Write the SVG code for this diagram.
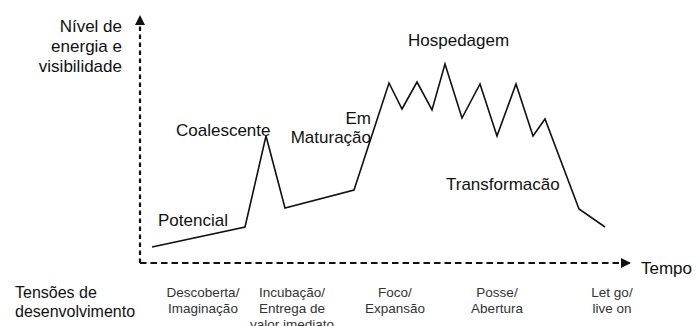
<svg xmlns="http://www.w3.org/2000/svg" width="696" height="326" viewBox="0 0 696 326">
<style>
.t{font-family:"Liberation Sans",Arial,sans-serif;font-size:17px;fill:#111}
.s{font-family:"Liberation Sans",Arial,sans-serif;font-size:13.5px;fill:#333;text-anchor:middle}
.ax{stroke:#111;stroke-width:2.2;fill:none}
.v{stroke-dasharray:4.5 3.5}
.h{stroke-dasharray:6.5 4}
.c{stroke:#111;stroke-width:1.6;fill:none;stroke-linejoin:miter}
</style>
<defs>
<marker id="ah" markerWidth="10" markerHeight="10" refX="9" refY="5" orient="auto" markerUnits="userSpaceOnUse">
<path d="M0,0 L10,5 L0,10 Z" fill="#111"/>
</marker>
</defs>
<rect width="696" height="326" fill="#fff"/>
<g id="axes">
<path class="ax v" d="M140,263 L140,16" marker-end="url(#ah)"/>
<path class="ax h" d="M140,263 L630,263" marker-end="url(#ah)"/>
</g>
<g id="connectors">
<polyline class="c" points="152,247 245,227 266,136 285,208 354,190 389,83 402,109 417,82 432,110 445,64 462,118 480,84 497,136 516,84 533,136 545,119 579,209 605,227"/>
</g>
<g id="axis-labels">
<text class="t" text-anchor="end" x="122" y="32">Nível de</text>
<text class="t" text-anchor="end" x="122" y="52">energia e</text>
<text class="t" text-anchor="end" x="122" y="72">visibilidade</text>
<text class="t" x="641" y="274">Tempo</text>
</g>
<g id="stage-potencial"><text class="t" x="158" y="226">Potencial</text></g>
<g id="stage-coalescente"><text class="t" x="176" y="136">Coalescente</text></g>
<g id="stage-maturacao">
<text class="t" text-anchor="end" x="371" y="124">Em</text>
<text class="t" text-anchor="end" x="371" y="143">Maturação</text>
</g>
<g id="stage-hospedagem"><text class="t" x="408" y="46">Hospedagem</text></g>
<g id="stage-transformacao"><text class="t" x="446" y="190">Transformacão</text></g>
<g id="tensoes">
<text class="t" style="font-size:16px" x="15" y="298">Tensões de</text>
<text class="t" style="font-size:16px" x="15" y="317">desenvolvimento</text>
</g>
<g id="t1"><text class="s" x="203" y="297">Descoberta/</text><text class="s" x="203" y="313">Imaginação</text></g>
<g id="t2"><text class="s" x="292" y="297">Incubação/</text><text class="s" x="292" y="313">Entrega de</text><text class="s" x="292" y="329">valor imediato</text></g>
<g id="t3"><text class="s" x="395" y="297">Foco/</text><text class="s" x="395" y="313">Expansão</text></g>
<g id="t4"><text class="s" x="497" y="297">Posse/</text><text class="s" x="497" y="313">Abertura</text></g>
<g id="t5"><text class="s" x="612" y="297">Let go/</text><text class="s" x="612" y="313">live on</text></g>
</svg>
